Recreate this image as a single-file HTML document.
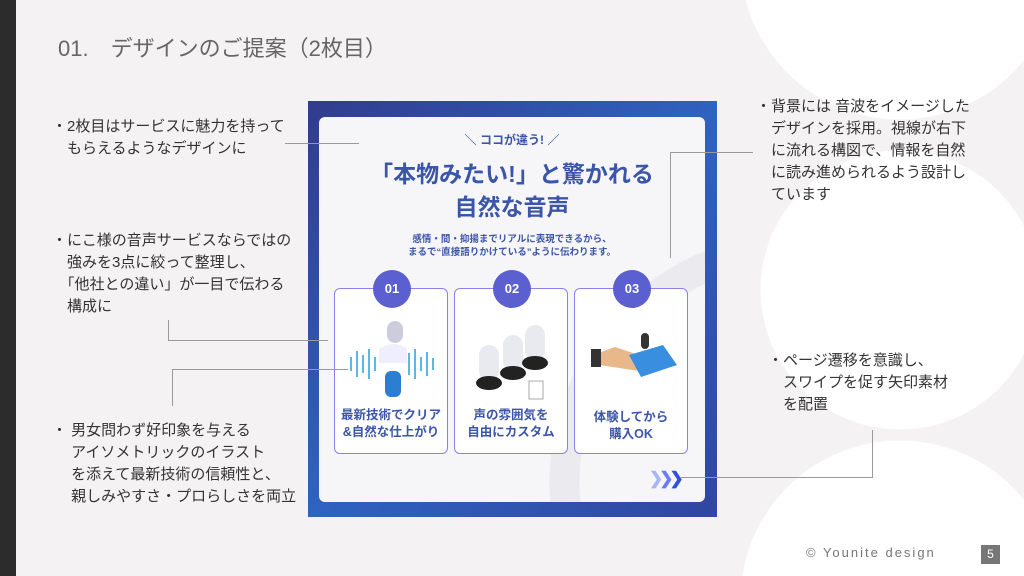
<!DOCTYPE html>
<html style="width:1024px;height:576px;overflow:hidden"><head><meta charset="utf-8"><style>
*{margin:0;padding:0;box-sizing:border-box}
body{width:1024px;height:576px;overflow:hidden;position:relative;font-family:"Liberation Sans","Noto Sans CJK JP",sans-serif;color:#333;
background:radial-gradient(circle 160px at 900px -40px,#fff 159px,rgba(255,255,255,0) 160px),radial-gradient(circle 140px at 900px 290px,#fff 139px,rgba(255,255,255,0) 140px),radial-gradient(circle 160px at 900px 600px,#fff 159px,rgba(255,255,255,0) 160px),#f4f2f3}
.a{position:absolute}
.t{font-size:15px;line-height:22px;color:#333}
.ln{position:absolute;background:#9a9a9a}
.card{position:absolute;top:288px;width:114px;height:166px;border:1.5px solid #8a7ef0;border-radius:6px;background:#fff}
.num{position:absolute;top:-19px;left:38px;width:38px;height:38px;border-radius:50%;background:#5b5fcf;color:#fff;font-weight:bold;font-size:13px;text-align:center;line-height:38px}
.cap{position:absolute;top:118px;left:0;width:100%;text-align:center;font-size:12.5px;font-weight:bold;color:#3b55a8;line-height:17px}
</style></head><body>
<div class="a" style="left:0;top:0;width:16px;height:576px;background:#2c2c2c"></div>
<div class="a" style="left:58px;top:31px;font-size:22px;color:#666">01.　デザインのご提案（2枚目）</div>

<div class="a t" style="left:52px;top:116px">・2枚目はサービスに魅力を持って<br>　もらえるようなデザインに</div>
<div class="a t" style="left:52px;top:230px">・にこ様の音声サービスならではの<br>　強みを3点に絞って整理し、<br>　「他社との違い」が一目で伝わる<br>　構成に</div>
<div class="a t" style="left:52px;top:420px">・ 男女問わず好印象を与える<br>　 アイソメトリックのイラスト<br>　 を添えて最新技術の信頼性と、<br>　 親しみやすさ・プロらしさを両立</div>
<div class="a t" style="left:756px;top:96px">・背景には 音波をイメージした<br>　デザインを採用。視線が右下<br>　に流れる構図で、情報を自然<br>　に読み進められるよう設計し<br>　ています</div>
<div class="a t" style="left:768px;top:350px">・ページ遷移を意識し、<br>　スワイプを促す矢印素材<br>　を配置</div>

<div class="a" style="left:308px;top:101px;width:409px;height:416px;background:linear-gradient(135deg,#313c8c,#3062c0 50%,#3046a0)"></div>
<div class="a" style="left:319px;top:117px;width:386px;height:385px;border-radius:6px;background:radial-gradient(circle 250px at 480px 365px,#f6f6f8 219px,#ebebef 220px,#ebebef 249px,#f6f6f8 250px)"></div>
<div class="a" style="left:319px;top:131px;width:386px;text-align:center;font-size:12px;font-weight:bold;color:#3b55a8">＼ ココが違う! ／</div>
<div class="a" style="left:319px;top:158px;width:386px;text-align:center;font-size:23px;font-weight:bold;color:#3b55a8;line-height:33px">「本物みたい!」と驚かれる<br>自然な音声</div>
<div class="a" style="left:319px;top:233px;width:386px;text-align:center;font-size:9.5px;font-weight:bold;color:#3b55a8;line-height:13px">感情・間・抑揚までリアルに表現できるから、<br>まるで“直接語りかけている”ように伝わります。</div>

<div class="card" style="left:334px"><div class="num">01</div>
 <svg class="a" style="left:12px;top:30px" width="90" height="82"><rect x="40" y="2" width="16" height="22" rx="8" fill="#ccd"/><path d="M32 30 q16 -10 28 0 v14 h-28z" fill="#eef"/><rect x="38" y="52" width="16" height="26" rx="6" fill="#2c7fd0"/>
 <g stroke="#5ab7e8" stroke-width="2"><line x1="4" y1="38" x2="4" y2="52"/><line x1="10" y1="32" x2="10" y2="58"/><line x1="16" y1="36" x2="16" y2="54"/><line x1="22" y1="30" x2="22" y2="60"/><line x1="28" y1="38" x2="28" y2="52"/><line x1="62" y1="34" x2="62" y2="56"/><line x1="68" y1="30" x2="68" y2="60"/><line x1="74" y1="38" x2="74" y2="52"/><line x1="80" y1="33" x2="80" y2="57"/><line x1="86" y1="39" x2="86" y2="51"/></g></svg>
 <div class="cap">最新技術でクリア<br>&amp;自然な仕上がり</div></div>
<div class="card" style="left:454px"><div class="num">02</div>
 <svg class="a" style="left:18px;top:32px" width="80" height="80"><g fill="#e8eaf0"><rect x="6" y="24" width="20" height="36" rx="10"/><rect x="30" y="14" width="20" height="36" rx="10"/><rect x="52" y="4" width="20" height="36" rx="10"/></g><g fill="#222"><ellipse cx="16" cy="62" rx="13" ry="7"/><ellipse cx="40" cy="52" rx="13" ry="7"/><ellipse cx="62" cy="42" rx="13" ry="7"/></g><rect x="56" y="60" width="14" height="18" fill="#fff" stroke="#aaa"/></svg>
 <div class="cap">声の雰囲気を<br>自由にカスタム</div></div>
<div class="card" style="left:574px"><div class="num">03</div>
 <svg class="a" style="left:14px;top:36px" width="90" height="66"><path d="M4 30 l22 -8 30 10 -6 14 -40 -6z" fill="#e8b88a"/><rect x="2" y="24" width="10" height="18" fill="#333"/><path d="M40 30 l34 -10 14 20 -36 12z" fill="#3a8ee0"/><rect x="52" y="8" width="8" height="16" rx="4" fill="#333"/></svg>
 <div class="cap" style="top:120px">体験してから<br>購入OK</div></div>
<div class="a" style="left:649px;top:469px;font-size:17px;font-weight:bold;letter-spacing:-4px;color:#3050e0"><span style="color:#a9b4f5">❯</span><span style="color:#6a7ef0">❯</span>❯</div>

<div class="ln" style="left:285px;top:143px;width:74px;height:1px"></div>
<div class="ln" style="left:168px;top:320px;width:1px;height:21px"></div>
<div class="ln" style="left:168px;top:340px;width:160px;height:1px"></div>
<div class="ln" style="left:172px;top:369px;width:176px;height:1px"></div>
<div class="ln" style="left:172px;top:369px;width:1px;height:37px"></div>
<div class="ln" style="left:670px;top:152px;width:83px;height:1px"></div>
<div class="ln" style="left:670px;top:152px;width:1px;height:106px"></div>
<div class="ln" style="left:872px;top:430px;width:1px;height:47px"></div>
<div class="ln" style="left:680px;top:477px;width:193px;height:1px"></div>

<div class="a" style="left:806px;top:545px;font-size:13px;letter-spacing:2px;color:#777">© Younite design</div>
<div class="a" style="left:981px;top:545px;width:19px;height:19px;background:#777;color:#fff;font-size:12px;text-align:center;line-height:19px">5</div>
</body></html>
